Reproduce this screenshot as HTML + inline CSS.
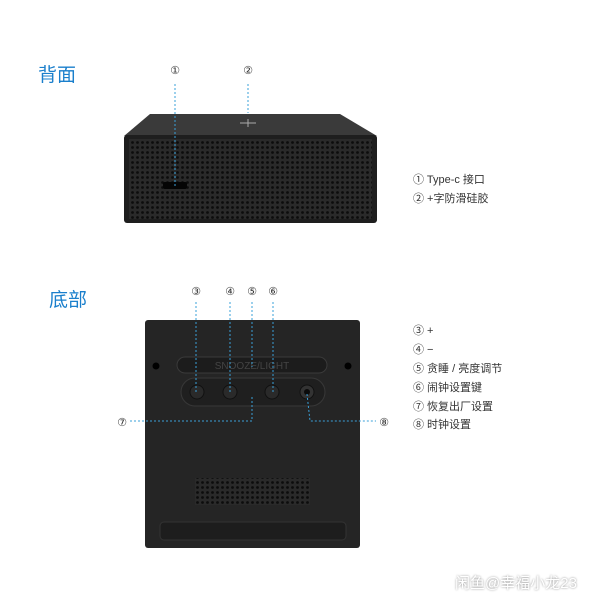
<!DOCTYPE html>
<html><head><meta charset="utf-8"><style>
body{margin:0;width:600px;height:601px;background:#fff;position:relative;overflow:hidden;font-family:"Liberation Sans","Noto Sans CJK SC",sans-serif}
.t{position:absolute;color:#333;font-size:11px;white-space:nowrap}
.h{position:absolute;color:#1a7fcc;font-size:19px}
</style></head><body>
<div class="h" style="left:38px;top:60px">背面</div>
<div class="h" style="left:49px;top:285px">底部</div>
<svg width="600" height="601" style="position:absolute;left:0;top:0">
<defs>
<pattern id="dots" width="5" height="5" patternUnits="userSpaceOnUse"><rect width="5" height="5" fill="#2a2a2a"/><circle cx="2.5" cy="2.5" r="1.4" fill="#0c0c0c"/></pattern>
</defs>
<!-- back device -->
<polygon points="150,114 340,114 377,136 124,136" fill="#3a3a3a"/>
<rect x="124" y="135" width="253" height="88" rx="3" fill="#1e1e1e"/>
<rect x="129" y="139" width="243" height="80" fill="url(#dots)"/>
<rect x="163" y="182" width="24" height="7" rx="2" fill="#050505"/>
<line x1="240" y1="123" x2="256" y2="123" stroke="#aaa"/><line x1="248" y1="119" x2="248" y2="127" stroke="#aaa"/>
<g stroke="#3aa0d8" stroke-dasharray="2,2" fill="none">
<line x1="175" y1="84" x2="175" y2="186"/>
<line x1="248" y1="84" x2="248" y2="113"/>
</g>
<!-- bottom device -->
<rect x="145" y="320" width="215" height="228" rx="3" fill="#252525"/>
<circle cx="156" cy="366" r="3.5" fill="#000"/><circle cx="348" cy="366" r="3.5" fill="#000"/>
<rect x="177" y="357" width="150" height="16" rx="8" fill="#1c1c1c" stroke="#3a3a3a"/>
<text x="252" y="369" font-size="10" fill="#444" text-anchor="middle" font-family="Liberation Sans">SNOOZE/LIGHT</text>
<rect x="181" y="378" width="144" height="28" rx="14" fill="#1f1f1f" stroke="#383838"/>
<circle cx="197" cy="392" r="7" fill="#2a2a2a" stroke="#111"/>
<circle cx="230" cy="392" r="7" fill="#2a2a2a" stroke="#111"/>
<circle cx="272" cy="392" r="7" fill="#2a2a2a" stroke="#111"/>
<circle cx="307" cy="392" r="7" fill="#333" stroke="#111"/>
<circle cx="307" cy="392" r="3" fill="#0a0a0a"/>
<rect x="195" y="478" width="115" height="27" fill="url(#dots)"/>
<rect x="160" y="522" width="186" height="18" rx="4" fill="#1d1d1d" stroke="#333"/>
<g stroke="#3aa0d8" stroke-dasharray="2,2" fill="none">
<line x1="196" y1="302" x2="196" y2="392"/>
<line x1="230" y1="302" x2="230" y2="392"/>
<line x1="252" y1="302" x2="252" y2="367"/>
<line x1="273" y1="302" x2="273" y2="392"/>
<polyline points="130,421 252,421 252,397"/>
<polyline points="307,394 310,421 376,421"/>
</g>
<g font-size="11" fill="#333" text-anchor="middle" font-family="DejaVu Sans">
<text x="175" y="74">①</text><text x="248" y="74">②</text>
<text x="196" y="295">③</text><text x="230" y="295">④</text><text x="252" y="295">⑤</text><text x="273" y="295">⑥</text>
<text x="122" y="426">⑦</text><text x="384" y="426">⑧</text>
</g>
</svg>
<div class="t" style="left:413px;top:171px">① Type-c 接口</div>
<div class="t" style="left:413px;top:190px">② +字防滑硅胶</div>
<div class="t" style="left:413px;top:322px">③ +</div>
<div class="t" style="left:413px;top:341px">④ −</div>
<div class="t" style="left:413px;top:360px">⑤ 贪睡 / 亮度调节</div>
<div class="t" style="left:413px;top:379px">⑥ 闹钟设置键</div>
<div class="t" style="left:413px;top:398px">⑦ 恢复出厂设置</div>
<div class="t" style="left:413px;top:416px">⑧ 时钟设置</div>
<div class="t" style="left:455px;top:572px;font-size:15px;color:#fff;text-shadow:0 0 2px #888">闲鱼@幸福小龙23</div>
</body></html>
